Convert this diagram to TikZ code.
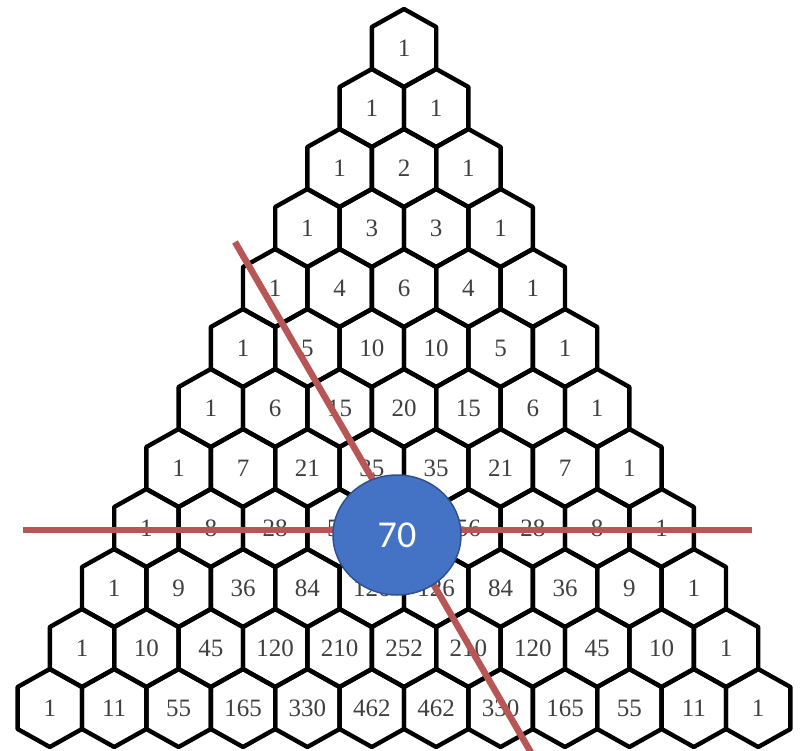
\documentclass[tikz,border=0pt]{standalone}
\usepackage{fontspec}
\setmainfont{Liberation Serif}
\newfontfamily\circfont{Carlito}
\usetikzlibrary{shapes.geometric}
\definecolor{redline}{RGB}{184,86,86}
\definecolor{cblue}{RGB}{68,114,196}
\definecolor{cblueedge}{RGB}{47,82,143}
\begin{document}
\begin{tikzpicture}[x=1pt,y=-1pt,
  hexline/.style={draw=black,line width=4.4pt,line join=round},
  num/.style={font=\fontsize{25}{25}\selectfont,text=black!75,inner sep=0pt},
  redstroke/.style={draw=redline,line width=6.5pt},
  bigdot/.style={ellipse,fill=cblue,draw=cblueedge,line width=1.5pt,minimum width=128pt,minimum height=120pt,inner sep=0pt,text=white,font=\circfont\fontsize{38}{38}\selectfont}]
\fill[white] (0,0) rectangle (800,751);
\useasboundingbox (0,0) rectangle (800,751);
\foreach \r/\vals in {0/{1},1/{1,1},2/{1,2,1},3/{1,3,3,1},4/{1,4,6,4,1},5/{1,5,10,10,5,1},6/{1,6,15,20,15,6,1},7/{1,7,21,35,35,21,7,1},8/{1,8,28,56,{},56,28,8,1},9/{1,9,36,84,126,126,84,36,9,1},10/{1,10,45,120,210,252,210,120,45,10,1},11/{1,11,55,165,330,462,462,330,165,55,11,1}}{
  \foreach \v [count=\k from 0] in \vals {
    \pgfmathsetmacro{\cx}{404+(\k-\r/2)*64.4}
    \pgfmathsetmacro{\cy}{48+60*\r}
    \draw[hexline] (\cx,\cy-39) -- (\cx+32.2,\cy-21) -- (\cx+32.2,\cy+21) -- (\cx,\cy+39) -- (\cx-32.2,\cy+21) -- (\cx-32.2,\cy-21) -- cycle;
    \node[num] (n-\r-\k) at (\cx,\cy) {\v};
  }
}
\coordinate (hA) at (23,530);
\coordinate (hB) at (752,530);
\coordinate (dA) at (235,242);
\coordinate (dB) at (533,756);
\draw[redstroke] (hA) -- (hB);
\draw[redstroke] (dA) -- (dB);
\node[bigdot] (c70) at (397,535) {70};
\end{tikzpicture}
\end{document}
